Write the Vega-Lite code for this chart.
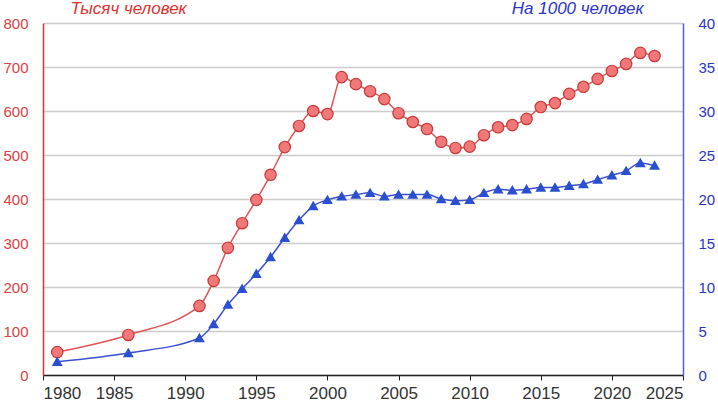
{
  "$schema": "https://vega.github.io/schema/vega-lite/v6.json",
  "width": 640,
  "height": 352,
  "autosize": {"type": "none"},
  "padding": {"left": 43, "top": 23, "right": 35, "bottom": 26},
  "background": "white",
  "config": {
    "view": {"stroke": null},
    "font": "Liberation Sans",
    "axis": {"labelFont": "Liberation Sans", "titleFont": "Liberation Sans"}
  },
  "datasets": {
    "abs": [
      {"year": 1981, "v": 52}, {"year": 1986, "v": 91}, {"year": 1991, "v": 157},
      {"year": 1992, "v": 214}, {"year": 1993, "v": 289}, {"year": 1994, "v": 345},
      {"year": 1995, "v": 398}, {"year": 1996, "v": 455}, {"year": 1997, "v": 518},
      {"year": 1998, "v": 566}, {"year": 1999, "v": 600}, {"year": 2000, "v": 593},
      {"year": 2001, "v": 677}, {"year": 2002, "v": 661}, {"year": 2003, "v": 645},
      {"year": 2004, "v": 627}, {"year": 2005, "v": 595}, {"year": 2006, "v": 575},
      {"year": 2007, "v": 559}, {"year": 2008, "v": 530}, {"year": 2009, "v": 516},
      {"year": 2010, "v": 519}, {"year": 2011, "v": 545}, {"year": 2012, "v": 563},
      {"year": 2013, "v": 568}, {"year": 2014, "v": 582}, {"year": 2015, "v": 609},
      {"year": 2016, "v": 618}, {"year": 2017, "v": 639}, {"year": 2018, "v": 655},
      {"year": 2019, "v": 673}, {"year": 2020, "v": 691}, {"year": 2021, "v": 707},
      {"year": 2022, "v": 732}, {"year": 2023, "v": 725}
    ],
    "rate": [
      {"year": 1981, "r": 1.5}, {"year": 1986, "r": 2.5}, {"year": 1991, "r": 4.2},
      {"year": 1992, "r": 5.8}, {"year": 1993, "r": 8.0}, {"year": 1994, "r": 9.8},
      {"year": 1995, "r": 11.5}, {"year": 1996, "r": 13.4}, {"year": 1997, "r": 15.6},
      {"year": 1998, "r": 17.6}, {"year": 1999, "r": 19.2}, {"year": 2000, "r": 19.9},
      {"year": 2001, "r": 20.3}, {"year": 2002, "r": 20.5}, {"year": 2003, "r": 20.7},
      {"year": 2004, "r": 20.3}, {"year": 2005, "r": 20.5}, {"year": 2006, "r": 20.5},
      {"year": 2007, "r": 20.5}, {"year": 2008, "r": 20.0}, {"year": 2009, "r": 19.8},
      {"year": 2010, "r": 19.9}, {"year": 2011, "r": 20.7}, {"year": 2012, "r": 21.1},
      {"year": 2013, "r": 21.0}, {"year": 2014, "r": 21.1}, {"year": 2015, "r": 21.3},
      {"year": 2016, "r": 21.3}, {"year": 2017, "r": 21.5}, {"year": 2018, "r": 21.7},
      {"year": 2019, "r": 22.2}, {"year": 2020, "r": 22.7}, {"year": 2021, "r": 23.2},
      {"year": 2022, "r": 24.1}, {"year": 2023, "r": 23.8}
    ]
  },
  "encoding": {
    "x": {
      "field": "year", "type": "quantitative",
      "scale": {"domain": [1980, 2025], "nice": false, "zero": false},
      "axis": {
        "values": [1980, 1985, 1990, 1995, 2000, 2005, 2010, 2015, 2020, 2025],
        "format": "d", "title": null, "grid": false,
        "domainColor": "#222222", "domainWidth": 1.5,
        "tickColor": "#222222", "tickSize": 5,
        "labelColor": "#333333", "labelFontSize": 17, "labelPadding": 5
      }
    }
  },
  "layer": [
    {
      "data": {"name": "abs"},
      "layer": [
        {
          "mark": {"type": "line", "color": "#e05555", "strokeWidth": 1.5, "interpolate": "monotone"},
          "encoding": {
            "y": {
              "field": "v", "type": "quantitative",
              "scale": {"domain": [0, 800], "nice": false},
              "axis": {
                "orient": "left", "values": [0, 100, 200, 300, 400, 500, 600, 700, 800],
                "title": "Тысяч человек", "titleAngle": 0, "titleX": 27, "titleY": -10,
                "titleAlign": "left", "titleBaseline": "alphabetic",
                "titleColor": "#e03030", "titleFontStyle": "italic", "titleFontWeight": "normal", "titleFontSize": 17,
                "grid": true, "gridColor": "#cccccc", "gridWidth": 1.5,
                "domainColor": "#e03030", "domainWidth": 1.5, "ticks": false,
                "labelColor": "#e04040", "labelFontSize": 15, "labelPadding": 15
              }
            }
          }
        },
        {
          "mark": {"type": "point", "shape": "circle", "filled": true, "fill": "#f07878", "stroke": "#c83a3a", "strokeWidth": 1.2, "size": 130, "opacity": 1},
          "encoding": {"y": {"field": "v", "type": "quantitative"}}
        }
      ]
    },
    {
      "data": {"name": "rate"},
      "layer": [
        {
          "mark": {"type": "line", "color": "#3a4fd0", "strokeWidth": 1.5, "interpolate": "monotone"},
          "encoding": {
            "y": {
              "field": "r", "type": "quantitative",
              "scale": {"domain": [0, 40], "nice": false},
              "axis": {
                "orient": "right", "values": [0, 5, 10, 15, 20, 25, 30, 35, 40],
                "title": "На 1000 человек", "titleAngle": 0, "titleX": -40, "titleY": -10,
                "titleAlign": "right", "titleBaseline": "alphabetic",
                "titleColor": "#2a35c8", "titleFontStyle": "italic", "titleFontWeight": "normal", "titleFontSize": 17,
                "grid": false,
                "domainColor": "#5a5ad8", "domainWidth": 1.5, "ticks": false,
                "labelColor": "#2a35c8", "labelFontSize": 15, "labelPadding": 15
              }
            }
          }
        },
        {
          "mark": {"type": "point", "shape": "triangle-up", "filled": true, "fill": "#2a4fd0", "stroke": "#2a4fd0", "size": 55, "opacity": 1},
          "encoding": {"y": {"field": "r", "type": "quantitative"}}
        }
      ]
    }
  ],
  "resolve": {"scale": {"y": "independent"}}
}
